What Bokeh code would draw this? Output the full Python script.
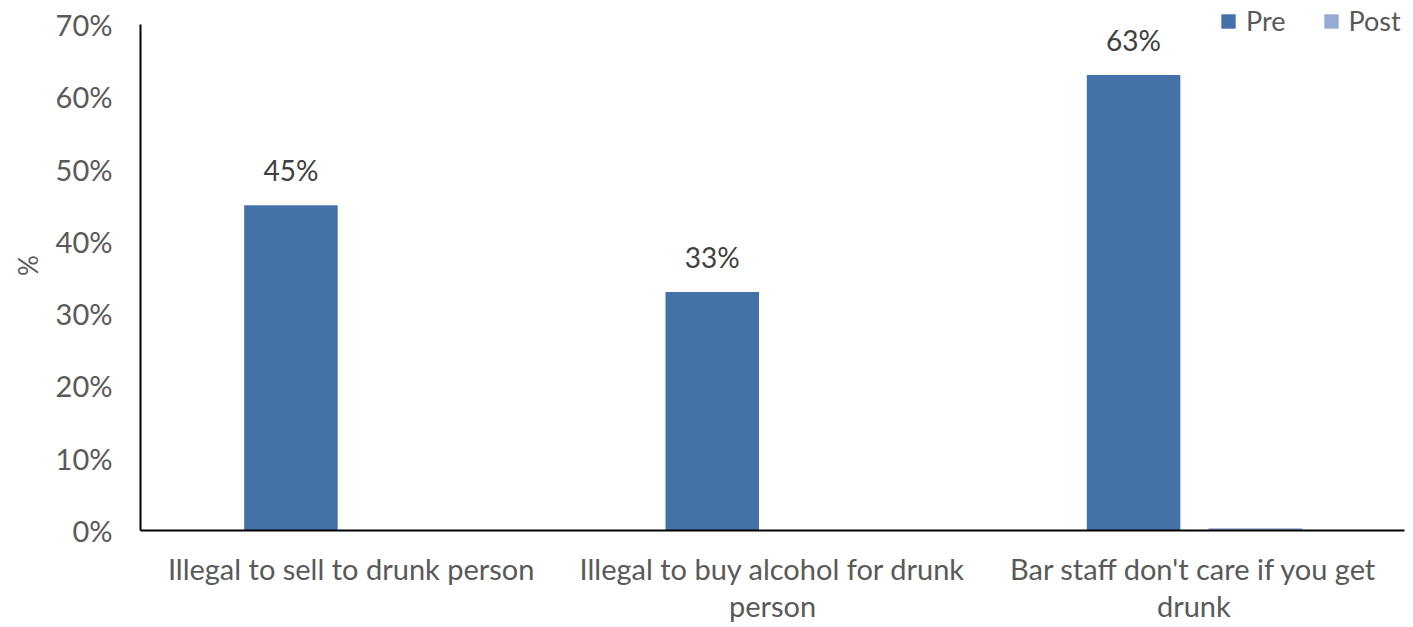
from bokeh.plotting import figure
from bokeh.models import (ColumnDataSource, FactorRange, NumeralTickFormatter, Legend,
                          LegendItem, FixedTicker)
from bokeh.transform import dodge
from bokeh.embed import file_html
from bokeh.resources import INLINE
from bokeh.core.properties import value

categories = ["Illegal to sell to drunk person",
              "Illegal to buy alcohol for drunk\nperson",
              "Bar staff don't care if you get\ndrunk"]
pre = [0.45, 0.33, 0.63]
post = [0.0, 0.0, 0.003]
pre_labels = ["45%", "33%", "63%"]
y_ticks = [0, 0.1, 0.2, 0.3, 0.4, 0.5, 0.6, 0.7]

FONT = "Lato"
GREY = "#595959"
FS = "29px"

# frame spans the full height above the x axis; axis line bounded to 0..70%
Y_MAX = y_ticks[-1]
Y_END = Y_MAX * 530 / 506

src = ColumnDataSource(dict(cat=categories, pre=pre, post=post, lab=pre_labels))

p = figure(width=1413, height=627, x_range=FactorRange(factors=categories, range_padding=0),
           y_range=(0, Y_END), output_backend="svg", toolbar_location=None,
           min_border_left=140, min_border_top=0, min_border_bottom=97, min_border_right=9)
p.outline_line_color = None
p.xgrid.visible = False
p.ygrid.visible = False

r_pre = p.vbar(x=dodge('cat', -0.143, range=p.x_range), top='pre', width=0.222, source=src,
               fill_color="#4472A8", line_color=None)
r_post = p.vbar(x=dodge('cat', 0.146, range=p.x_range), top='post', width=0.222, source=src,
                fill_color="#95ABD3", line_color=None)

p.text(x=dodge('cat', -0.143, range=p.x_range), y='pre', text='lab', source=src,
       text_align="center", text_baseline="bottom", y_offset=-18,
       text_font=value(FONT), text_font_size="28px", text_color="#404040")

p.yaxis.ticker = FixedTicker(ticks=y_ticks)
p.yaxis.bounds = (0, Y_MAX)
p.yaxis.formatter = NumeralTickFormatter(format="0%")
p.yaxis.axis_label = "%"
p.yaxis.axis_label_text_font = FONT
p.yaxis.axis_label_text_font_style = "normal"
p.yaxis.axis_label_text_font_size = "26px"
p.yaxis.axis_label_text_color = GREY
p.yaxis.axis_label_standoff = 9
for ax in (p.xaxis, p.yaxis):
    ax.axis_line_color = "black"
    ax.axis_line_width = 2
    ax.major_tick_line_color = None
    ax.minor_tick_line_color = None
    ax.major_label_text_font = FONT
    ax.major_label_text_font_size = FS
    ax.major_label_text_color = GREY
p.yaxis.major_label_standoff = 22
p.xaxis.major_label_standoff = 14
p.xaxis.major_label_text_line_height = 1.08

legend = Legend(items=[LegendItem(label="Pre", renderers=[r_pre]),
                       LegendItem(label="Post", renderers=[r_post])],
                orientation="horizontal", location=(1079, 493),
                label_text_font=FONT, label_text_font_size="27px", label_text_color=GREY,
                glyph_width=18, glyph_height=18, spacing=36, padding=0, margin=0,
                label_standoff=9, background_fill_alpha=0, border_line_color=None)
p.add_layout(legend)

open("out.html", "w").write(file_html(p, INLINE))
